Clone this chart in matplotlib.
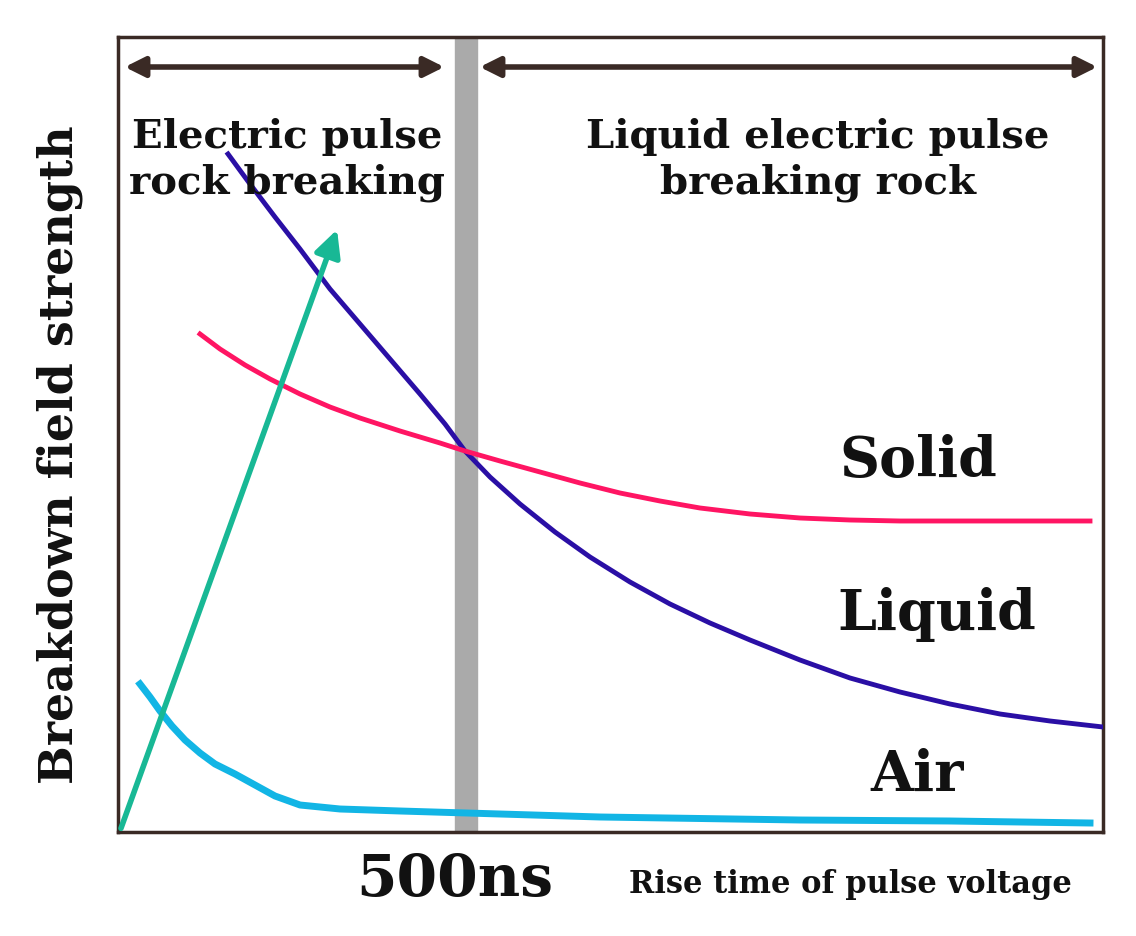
import matplotlib
matplotlib.use("Agg")
import matplotlib.pyplot as plt

liquid_x = [228, 250, 275, 300, 330, 360, 390, 420, 445, 465, 490, 520, 555, 590, 630, 670, 710, 750, 800, 850, 900, 950, 1000, 1050, 1103]
liquid_y = [155, 185, 218, 250, 290, 325, 360, 395, 425, 452, 478, 505, 533, 558, 583, 605, 624, 641, 661, 679, 693, 705, 715, 722, 728]
solid_x = [200, 220, 245, 270, 300, 330, 360, 400, 440, 465, 500, 540, 580, 620, 660, 700, 750, 800, 850, 900, 1000, 1090]
solid_y = [335, 350, 366, 380, 395, 408, 419, 432, 444, 452, 462, 473, 484, 494, 502, 509, 515, 519, 521, 522, 522, 522]
air_x = [140, 150, 160, 172, 185, 200, 215, 235, 255, 275, 300, 340, 400, 500, 600, 800, 950, 1090]
air_y = [685, 698, 712, 727, 741, 754, 765, 775, 786, 797, 806, 810, 812, 815, 818, 821, 822, 824]
region_labels = ["Electric pulse\nrock breaking", "Liquid electric pulse\nbreaking rock"]
curve_labels = ["Solid", "Liquid", "Air"]

fig = plt.figure(figsize=(11.36, 9.37), dpi=100)
ax = fig.add_axes([118/1136, 104/937, 985/1136, 795/937])
ax.set_xlim(118, 1103)
ax.set_ylim(833, 38)
ax.set_xticks([]); ax.set_yticks([])
for s in ax.spines.values():
    s.set_linewidth(2.5); s.set_color("#3a2a25")

ax.axvspan(455, 477, color="#aaaaaa", zorder=1)
ax.plot(liquid_x, liquid_y, color="#2a0fa5", lw=3.5, zorder=3)
ax.plot(solid_x, solid_y, color="#ff1563", lw=3.5, zorder=3)
ax.plot(air_x, air_y, color="#12b5e5", lw=5, zorder=3)
ax.annotate("", xy=(338, 228), xytext=(120, 832),
            arrowprops=dict(arrowstyle="-|>,head_length=1.6,head_width=0.8", color="#18b895", lw=4), zorder=4)
for a, b in [(122, 447), (477, 1100)]:
    ax.annotate("", xy=(b, 68), xytext=(a, 68),
                arrowprops=dict(arrowstyle="<|-|>,head_length=1.2,head_width=0.6", color="#3a2a25", lw=4))

tf = dict(family="DejaVu Serif", weight="bold", color="#111111")
ax.text(287, 160, region_labels[0], ha="center", va="center", fontsize=29, linespacing=1.25, **tf)
ax.text(818, 160, region_labels[1], ha="center", va="center", fontsize=29, linespacing=1.25, **tf)
ax.text(918, 462, curve_labels[0], ha="center", va="center", fontsize=40, **tf)
ax.text(937, 615, curve_labels[1], ha="center", va="center", fontsize=40, **tf)
ax.text(917, 775, curve_labels[2], ha="center", va="center", fontsize=40, **tf)
fig.text(455/1136, 1-880/937, "500ns", ha="center", va="center", fontsize=42, **tf)
fig.text(850/1136, 1-885/937, "Rise time of pulse voltage", ha="center", va="center", fontsize=22, **tf)
fig.text(60/1136, 1-455/937, "Breakdown field strength", ha="center", va="center", rotation=90, fontsize=33, **tf)
fig.savefig("out.png", dpi=100, facecolor="white")
